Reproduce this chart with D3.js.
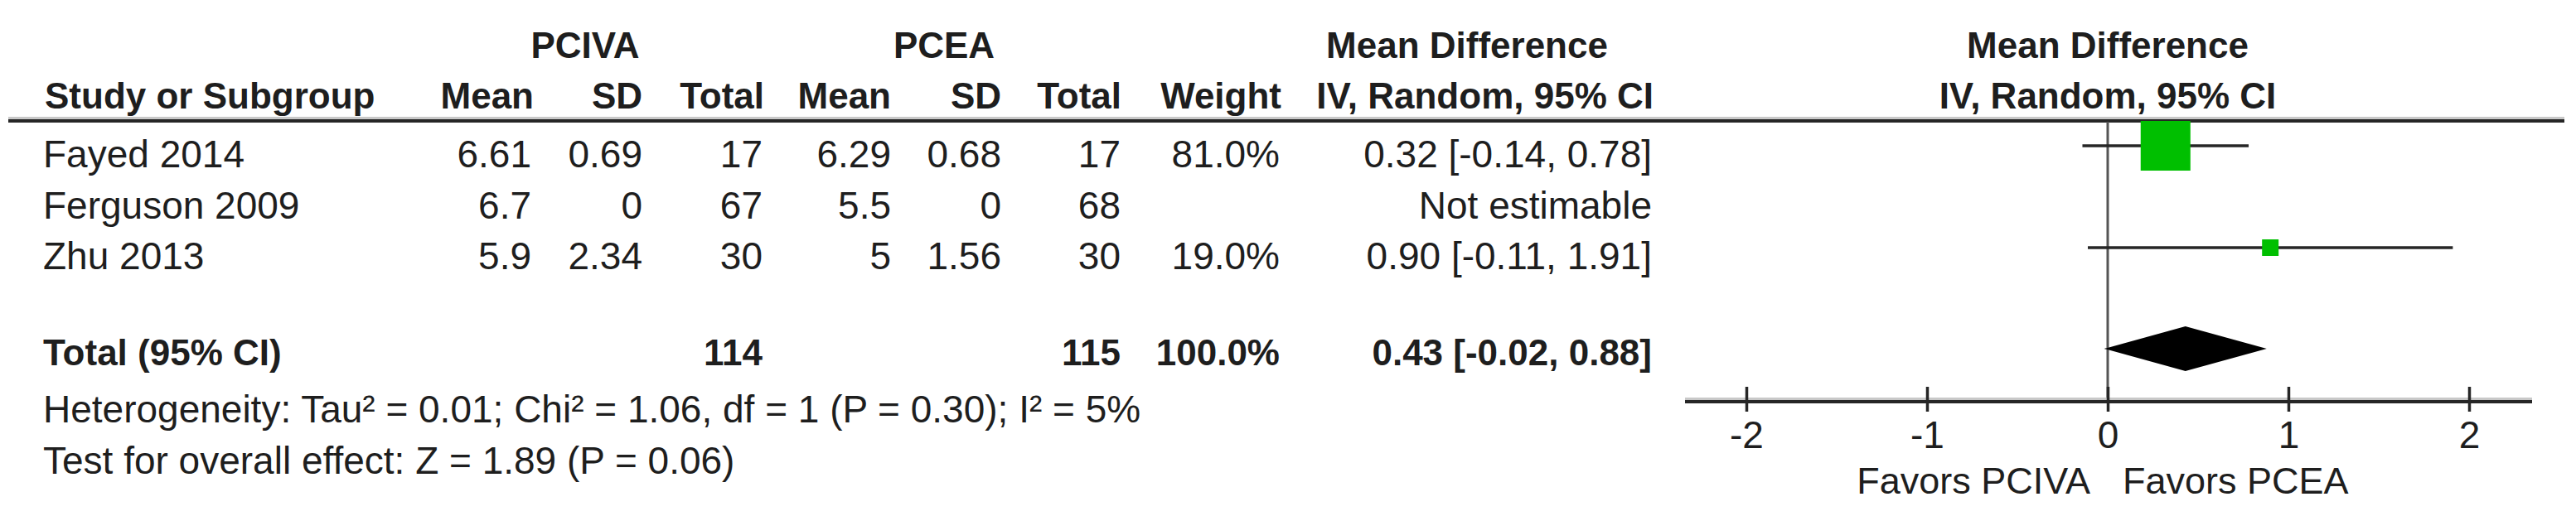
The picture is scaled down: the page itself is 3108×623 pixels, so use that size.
<!DOCTYPE html>
<html>
<head>
<meta charset="utf-8">
<script src="https://cdn.jsdelivr.net/npm/d3@7"></script>
<style>
  body { margin: 0; background: #fff; }
  text { font-family: "Liberation Sans", Arial, sans-serif; fill: #1e1e1e; }
  .b { font-weight: bold; font-size: 44px; }
  .r { font-size: 46px; }
</style>
</head>
<body>
<div class="canvas"></div>
<script>
// Study data
const studies = ["Fayed 2014", "Ferguson 2009", "Zhu 2013"];
const pcivaMean = [6.61, 6.7, 5.9];
const pcivaSD = [0.69, 0, 2.34];
const pcivaTotal = [17, 67, 30];
const pceaMean = [6.29, 5.5, 5];
const pceaSD = [0.68, 0, 1.56];
const pceaTotal = [17, 68, 30];
const weights = [81.0, null, 19.0];
const meanDiff = [0.32, null, 0.9];
const ciLow = [-0.14, null, -0.11];
const ciHigh = [0.78, null, 1.91];

// Pooled estimate
const pooledMD = 0.43;
const pooledLow = -0.02;
const pooledHigh = 0.88;

const axisTicks = [-2, -1, 0, 1, 2];
const heterogeneity = "Heterogeneity: Tau² = 0.01; Chi² = 1.06, df = 1 (P = 0.30); I² = 5%";
const overallTest = "Test for overall effect: Z = 1.89 (P = 0.06)";
const favorsLeft = "Favors PCIVA";
const favorsRight = "Favors PCEA";

const dims = { width: 3108, height: 623 };

const svg = d3
  .select(".canvas")
  .append("svg")
  .attr("width", dims.width)
  .attr("height", dims.height);

// column anchors of the table (right edges unless noted)
const col = { study: 52, m1: 641, sd1: 775, n1: 920, m2: 1075, sd2: 1208, n2: 1352, weight: 1544, ci: 1993 };

// scales
const x = d3.scaleLinear().domain([-2, 2]).range([2107, 2979]);
const rowY = d3.scaleLinear().domain([0, 1]).range([202, 263.5]);
const boxSize = d3.scaleLinear().domain([0, 100]).range([7.7, 72.3]);

const fmt2 = (v) => v.toFixed(2);

// header texts
const header = svg.append("g");
const addText = (g, txt, px, py, cls, anchor) =>
  g.append("text").attr("x", px).attr("y", py).attr("class", cls)
    .attr("text-anchor", anchor).text(txt);

addText(header, "PCIVA", 706, 70, "b", "middle");
addText(header, "PCEA", 1139, 70, "b", "middle");
addText(header, "Mean Difference", 1770, 70, "b", "middle");
addText(header, "Mean Difference", x(0), 70, "b", "middle");

addText(header, "Study or Subgroup", col.study + 2, 131, "b", "start");
addText(header, "Mean", col.m1 + 3, 131, "b", "end");
addText(header, "SD", col.sd1, 131, "b", "end");
addText(header, "Total", col.n1 + 2, 131, "b", "end");
addText(header, "Mean", col.m2, 131, "b", "end");
addText(header, "SD", col.sd2, 131, "b", "end");
addText(header, "Total", col.n2 + 1, 131, "b", "end");
addText(header, "Weight", col.weight + 2, 131, "b", "end");
addText(header, "IV, Random, 95% CI", col.ci + 2, 131, "b", "end");
addText(header, "IV, Random, 95% CI", x(0), 131, "b", "middle");

// header rule
svg.append("line").attr("x1", 10).attr("x2", 3094).attr("y1", 142.5).attr("y2", 142.5)
  .attr("stroke", "#c8c8c8").attr("stroke-width", 3);
svg.append("line").attr("x1", 10).attr("x2", 3094).attr("y1", 146).attr("y2", 146)
  .attr("stroke", "#262626").attr("stroke-width", 4);

// study rows
const rows = svg.selectAll("g.row")
  .data(studies.map((s, i) => ({ s, i })))
  .enter()
  .append("g")
  .attr("class", "row")
  .attr("transform", (d) => `translate(0, ${rowY(d.i)})`);

rows.append("text").attr("class", "r").attr("x", col.study).text((d) => d.s);
const cells = [
  ["m1", pcivaMean], ["sd1", pcivaSD], ["n1", pcivaTotal],
  ["m2", pceaMean], ["sd2", pceaSD], ["n2", pceaTotal],
];
cells.forEach(([k, arr]) => {
  rows.append("text").attr("class", "r").attr("x", col[k])
    .attr("text-anchor", "end").text((d) => String(arr[d.i]));
});
rows.append("text").attr("class", "r").attr("x", col.weight).attr("text-anchor", "end")
  .text((d) => (weights[d.i] == null ? "" : weights[d.i].toFixed(1) + "%"));
rows.append("text").attr("class", "r").attr("x", col.ci).attr("text-anchor", "end")
  .text((d) => meanDiff[d.i] == null
    ? "Not estimable"
    : `${fmt2(meanDiff[d.i])} [${fmt2(ciLow[d.i])}, ${fmt2(ciHigh[d.i])}]`);

// total row
const totY = 441;
addText(svg, "Total (95% CI)", col.study, totY, "b", "start");
addText(svg, d3.sum(pcivaTotal), col.n1, totY, "b", "end");
addText(svg, d3.sum(pceaTotal), col.n2, totY, "b", "end");
addText(svg, d3.sum(weights.filter((w) => w != null)).toFixed(1) + "%", col.weight, totY, "b", "end");
addText(svg, `${fmt2(pooledMD)} [${fmt2(pooledLow)}, ${fmt2(pooledHigh)}]`, col.ci, totY, "b", "end");

addText(svg, heterogeneity, col.study, 510, "r", "start");
addText(svg, overallTest, col.study, 572, "r", "start");

// forest plot
const axisY = 485;
const plot = svg.append("g");

// line of no effect
plot.append("line").attr("x1", x(0)).attr("x2", x(0)).attr("y1", 147).attr("y2", axisY)
  .attr("stroke", "#555").attr("stroke-width", 3);

const est = studies.map((s, i) => i).filter((i) => meanDiff[i] != null);

plot.selectAll("line.ci")
  .data(est)
  .enter()
  .append("line")
  .attr("class", "ci")
  .attr("x1", (i) => x(ciLow[i]))
  .attr("x2", (i) => x(ciHigh[i]))
  .attr("y1", (i) => rowY(i) - 26)
  .attr("y2", (i) => rowY(i) - 26)
  .attr("stroke", "#262626")
  .attr("stroke-width", 3.5);

plot.selectAll("rect.box")
  .data(est)
  .enter()
  .append("rect")
  .attr("class", "box")
  .attr("x", (i) => x(meanDiff[i]) - boxSize(weights[i]) / 2)
  .attr("y", (i) => rowY(i) - 26 - boxSize(weights[i]) / 2)
  .attr("width", (i) => boxSize(weights[i]))
  .attr("height", (i) => boxSize(weights[i]))
  .attr("fill", "#00bf00");

// pooled diamond
const dy = 421;
plot.append("path")
  .attr("d", `M${x(pooledLow)},${dy}L${x(pooledMD)},${dy - 27}L${x(pooledHigh)},${dy}L${x(pooledMD)},${dy + 27}Z`)
  .attr("fill", "#000");

// axis
const [r0, r1] = x.range();
plot.append("line").attr("x1", r0 - 74).attr("x2", r1 + 76).attr("y1", axisY - 3.5).attr("y2", axisY - 3.5)
  .attr("stroke", "#c8c8c8").attr("stroke-width", 3);
plot.append("line").attr("x1", r0 - 74).attr("x2", r1 + 76).attr("y1", axisY).attr("y2", axisY)
  .attr("stroke", "#262626").attr("stroke-width", 4);

const axisG = plot.append("g")
  .attr("transform", `translate(0, ${axisY})`)
  .call(d3.axisBottom(x).tickValues(axisTicks).tickFormat((d) => String(d)).tickSize(0));
axisG.select(".domain").remove();
axisG.selectAll(".tick line")
  .attr("y1", -18).attr("y2", 12)
  .attr("stroke", "#262626").attr("stroke-width", 3.5);
axisG.selectAll(".tick text")
  .attr("y", 56).attr("dy", 0)
  .attr("font-size", 46)
  .attr("font-family", "Liberation Sans, Arial, sans-serif")
  .attr("fill", "#1e1e1e");

addText(plot, favorsLeft, x(0) - 21, 596, "r", "end").style("font-size", "45px");
addText(plot, favorsRight, x(0) + 18, 596, "r", "start").style("font-size", "45px");
</script>
</body>
</html>
